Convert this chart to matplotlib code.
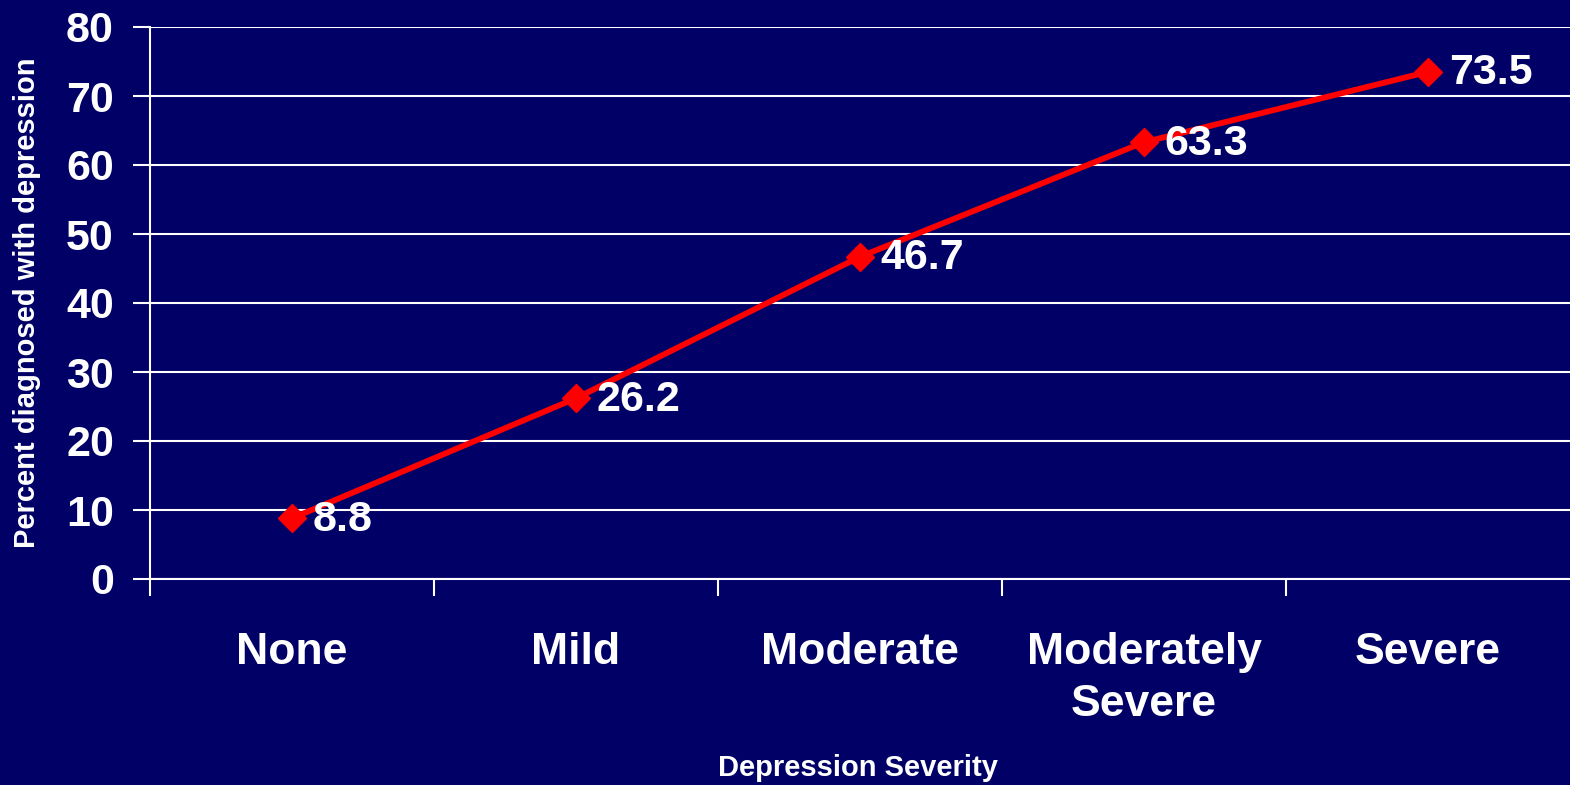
import matplotlib
matplotlib.use('Agg')
import matplotlib.pyplot as plt

# chart data
categories = ['None', 'Mild', 'Moderate', 'Moderately\nSevere', 'Severe']
percent = [8.8, 26.2, 46.7, 63.3, 73.5]
yticks = [0, 10, 20, 30, 40, 50, 60, 70, 80]

bg = '#000066'
plt.rcParams['font.family'] = ['Liberation Sans', 'DejaVu Sans']
plt.rcParams['font.weight'] = 'bold'

fig = plt.figure(figsize=(15.7, 7.85), dpi=100, facecolor=bg)
ax = fig.add_axes([150/1570, 1 - 579/785, 1 - 150/1570, (579 - 27)/785])
ax.set_facecolor(bg)

x = list(range(len(categories)))
ax.plot(x, percent, color='#ff0000', lw=4.2, marker='D', ms=14, zorder=3, clip_on=False)
for xi, v in zip(x, percent):
    ax.annotate('{}'.format(v), (xi, v), xytext=(15, -1), textcoords='offset points',
                ha='left', va='center', color='white', fontsize=31, fontweight='bold')

ax.set_xlim(-0.5, len(categories) - 0.5)
ax.set_ylim(0, 80)
ax.set_yticks(yticks)
ax.yaxis.grid(True, color='white', lw=1.5)
ax.set_axisbelow(True)

# boundary ticks (major) and centred labels (minor)
ax.set_xticks([i - 0.5 for i in range(len(categories))])
ax.set_xticklabels([])
ax.set_xticks(x, minor=True)
ax.set_xticklabels(categories, minor=True, fontsize=32, fontweight='bold', color='white',
                   linespacing=1.34)
ax.tick_params(axis='x', which='major', length=12, width=1.5, color='white', direction='out')
ax.tick_params(axis='x', which='minor', length=0, pad=38)
ax.tick_params(axis='y', length=12, width=1.5, color='white', labelsize=31, labelcolor='white', pad=14)
for lbl in ax.get_yticklabels():
    lbl.set_fontweight('bold')

for s in ['top', 'right']:
    ax.spines[s].set_visible(False)
for s in ['left', 'bottom']:
    ax.spines[s].set_color('white')
    ax.spines[s].set_linewidth(1.5)

fig.text(27/1570, 1 - 303/785, 'Percent diagnosed with depression', rotation=90,
         ha='center', va='center', color='white', fontsize=21, fontweight='bold')
fig.text(858/1570, 1 - 768/785, 'Depression Severity', ha='center', va='center',
         color='white', fontsize=21, fontweight='bold')

fig.savefig('out.png', dpi=100, facecolor=bg)
